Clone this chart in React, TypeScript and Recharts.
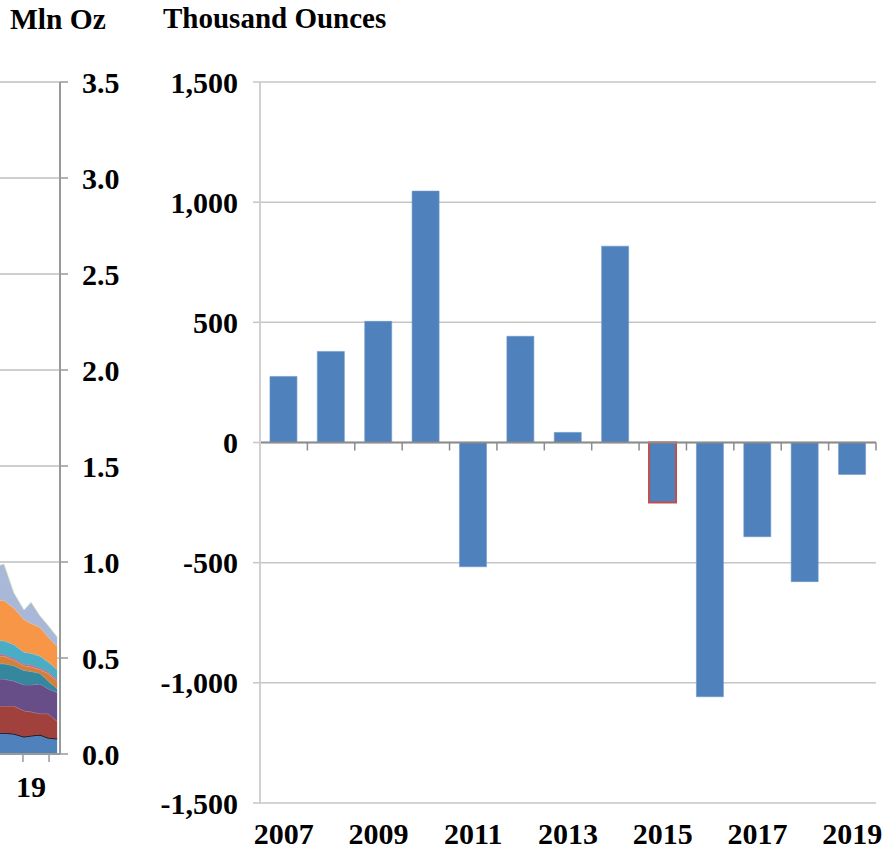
import { AreaChart, Area, BarChart, Bar, Cell, XAxis, YAxis, CartesianGrid, ReferenceLine } from 'recharts';

// right panel: annual change, thousand ounces
const years = ['2007', '2008', '2009', '2010', '2011', '2012', '2013', '2014', '2015', '2016', '2017', '2018', '2019'];
const changeKoz = [275, 379, 504, 1046, -517, 442, 42, 817, -250, -1058, -392, -579, -133];
const outlinedYear = '2015';
const koTicks = [-1500, -1000, -500, 0, 500, 1000, 1500];

// left panel (cropped): stacked holdings, mln oz, only the visible tail
const leftTime = [2018.04, 2018.27, 2018.65, 2019.04, 2019.31, 2019.65, 2019.96, 2020.31];
const layerBlue = [0.11, 0.11, 0.105, 0.09, 0.095, 0.1, 0.085, 0.08];
const layerRed = [0.14, 0.14, 0.145, 0.135, 0.125, 0.11, 0.125, 0.09];
const layerPurple = [0.14, 0.14, 0.13, 0.135, 0.14, 0.155, 0.13, 0.15];
const layerTeal = [0.08, 0.08, 0.08, 0.075, 0.07, 0.055, 0.04, 0.02];
const layerBrown = [0.04, 0.04, 0.03, 0.025, 0.025, 0.02, 0.04, 0.04];
const layerPink = [0.008, 0.008, 0.008, 0.008, 0.008, 0.008, 0.008, 0.008];
const layerCyan = [0.072, 0.072, 0.072, 0.062, 0.062, 0.062, 0.052, 0.052];
const layerOrange = [0.21, 0.21, 0.19, 0.17, 0.155, 0.15, 0.13, 0.12];
const layerLavender = [0.18, 0.19, 0.08, 0.05, 0.11, 0.06, 0.06, 0.05];
const mlnTicks = [0, 0.5, 1, 1.5, 2, 2.5, 3, 3.5];
const leftYearTicks = [2019, 2020];

const FONT = '"Liberation Serif", "Times New Roman", serif';
const tickText = { fill: '#000', fontSize: 30, fontWeight: 'bold', fontFamily: FONT };

const barData = years.map((y, i) => ({ year: y, value: changeKoz[i] }));
const areaData = leftTime.map((t, i) => ({
  t,
  blue: layerBlue[i],
  red: layerRed[i],
  purple: layerPurple[i],
  teal: layerTeal[i],
  brown: layerBrown[i],
  pink: layerPink[i],
  cyan: layerCyan[i],
  orange: layerOrange[i],
  lavender: layerLavender[i],
}));

const layers = [
  { key: 'blue', color: '#4F81BD', stroke: '#111' },
  { key: 'red', color: '#A0413E', stroke: '#c98a88' },
  { key: 'purple', color: '#674E88', stroke: '#9b8ab3' },
  { key: 'teal', color: '#34879C', stroke: '#7fb3c1' },
  { key: 'brown', color: '#D47F3C', stroke: '#e8b088' },
  { key: 'pink', color: '#C46C8C', stroke: '#C46C8C' },
  { key: 'cyan', color: '#4BACC6', stroke: '#92cfdf' },
  { key: 'orange', color: '#F79646', stroke: '#fac08f' },
  { key: 'lavender', color: '#A9B8D8', stroke: '#d6e3bc' },
];

// zero line with category boundary ticks
function ZeroAxis(props: any) {
  const { x1, y1, x2, y2 } = props;
  const n = years.length;
  const step = (x2 - x1) / n;
  return (
    <g>
      <line x1={x1} y1={y1} x2={x2} y2={y2} stroke="#8C8C8C" strokeWidth={2} />
      {Array.from({ length: n + 1 }, (_, i) => (
        <line key={i} x1={x1 + i * step} x2={x1 + i * step} y1={y1} y2={y1 + 8} stroke="#8C8C8C" strokeWidth={1.5} />
      ))}
    </g>
  );
}

export default function App() {
  return (
    <div style={{ position: 'absolute', left: 0, top: 0, width: 884, height: 850, overflow: 'hidden', background: '#fff' }}>
      <div style={{ position: 'absolute', left: 10, top: 5, fontFamily: FONT, fontWeight: 'bold', fontSize: 29.5, lineHeight: '29px', whiteSpace: 'nowrap' }}>
        Mln Oz
      </div>
      <div style={{ position: 'absolute', left: 163, top: 4, fontFamily: FONT, fontWeight: 'bold', fontSize: 29, lineHeight: '29px', whiteSpace: 'nowrap' }}>
        Thousand Ounces
      </div>

      <div style={{ position: 'absolute', left: 0, top: 60 }}>
        <AreaChart width={120} height={754} data={areaData} margin={{ top: 22, right: 0, bottom: 0, left: 0 }}>
          <CartesianGrid vertical={false} stroke="#BFBFBF" strokeWidth={1.5} />
          <XAxis
            dataKey="t"
            type="number"
            domain={[2018.12, 2020.42]}
            allowDataOverflow
            ticks={leftYearTicks}
            tickFormatter={(v: number) => (v === 2019 ? '19' : '')}
            height={60}
            tickSize={8}
            tickMargin={14}
            axisLine={{ stroke: '#999', strokeWidth: 2 }}
            tickLine={{ stroke: '#999', strokeWidth: 1.5 }}
            tick={{ ...tickText, dx: 8 }}
          />
          <YAxis
            orientation="right"
            domain={[0, 3.5]}
            ticks={mlnTicks}
            width={60}
            tickSize={8}
            tickMargin={14}
            tickFormatter={(v: number) => v.toFixed(1)}
            axisLine={{ stroke: '#999', strokeWidth: 2 }}
            tickLine={{ stroke: '#999', strokeWidth: 1.5 }}
            tick={tickText}
          />
          {layers.map((l) => (
            <Area
              key={l.key}
              type="linear"
              dataKey={l.key}
              stackId="s"
              fill={l.color}
              fillOpacity={1}
              stroke={l.stroke}
              strokeWidth={l.key === 'blue' ? 1.5 : 0.8}
              dot={false}
              activeDot={false}
              isAnimationActive={false}
            />
          ))}
        </AreaChart>
      </div>

      <div style={{ position: 'absolute', left: 160, top: 60 }}>
        <BarChart width={724} height={790} data={barData} margin={{ top: 22, right: 8, bottom: 0, left: 0 }} barCategoryGap="21%">
          <CartesianGrid vertical={false} stroke="#C6C6C6" strokeWidth={1.5} />
          <XAxis
            dataKey="year"
            interval={1}
            height={47}
            axisLine={false}
            tickLine={false}
            tickSize={0}
            tickMargin={20}
            tick={tickText}
          />
          <YAxis
            domain={[-1500, 1500]}
            ticks={koTicks}
            width={100}
            tickSize={7}
            tickMargin={15}
            tickFormatter={(v: number) => v.toLocaleString('en-US')}
            axisLine={{ stroke: '#D0D0D0', strokeWidth: 2 }}
            tickLine={{ stroke: '#C6C6C6', strokeWidth: 1.5 }}
            tick={tickText}
          />
          <YAxis yAxisId="frame" orientation="right" width={0} domain={[0, 1]} tick={false} tickLine={false} axisLine={{ stroke: '#C6C6C6', strokeWidth: 2 }} />
          <Bar dataKey="value" fill="#4F81BD" isAnimationActive={false}>
            {barData.map((d) => (
              <Cell
                key={d.year}
                fill="#4F81BD"
                stroke={d.year === outlinedYear ? '#C0504D' : '#6d97c9'}
                strokeWidth={d.year === outlinedYear ? 2 : 0.6}
              />
            ))}
          </Bar>
          <ReferenceLine y={0} shape={(p: any) => <ZeroAxis {...p} />} />
        </BarChart>
      </div>
    </div>
  );
}
